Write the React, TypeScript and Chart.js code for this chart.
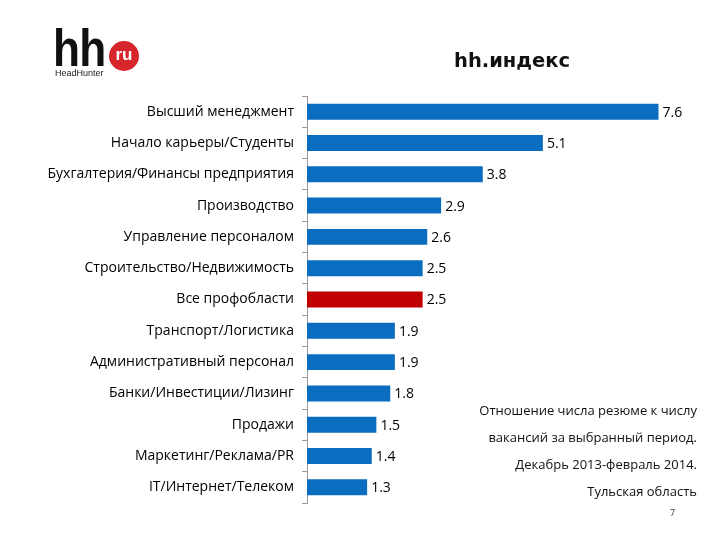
import React, { useEffect, useRef } from "react";
import { Chart, registerables } from "chart.js";

Chart.register(...registerables);

const categories = [
  "Высший менеджмент",
  "Начало карьеры/Студенты",
  "Бухгалтерия/Финансы предприятия",
  "Производство",
  "Управление персоналом",
  "Строительство/Недвижимость",
  "Все профобласти",
  "Транспорт/Логистика",
  "Административный персонал",
  "Банки/Инвестиции/Лизинг",
  "Продажи",
  "Маркетинг/Реклама/PR",
  "IT/Интернет/Телеком",
];
const values = [7.6, 5.1, 3.8, 2.9, 2.6, 2.5, 2.5, 1.9, 1.9, 1.8, 1.5, 1.4, 1.3];
const highlightCategory = "Все профобласти";
const titleText = "hh.индекс";
const noteLines = [
  "Отношение числа резюме к числу",
  "вакансий за выбранный период.",
  "Декабрь 2013-февраль 2014.",
  "Тульская область",
];
const pageNumber = "7";

const BLUE = "#0A6DC0";
const RED = "#C00000";
const LABEL_FONT = "'Open Sans', 'DejaVu Sans', sans-serif";

const valueLabels = {
  id: "valueLabels",
  afterDatasetsDraw(chart: any) {
    const ctx = chart.ctx;
    const meta = chart.getDatasetMeta(0);
    ctx.save();
    ctx.fillStyle = "#000";
    ctx.font = `14px ${LABEL_FONT}`;
    ctx.textAlign = "left";
    ctx.textBaseline = "middle";
    meta.data.forEach((el: any, i: number) => {
      ctx.fillText(String(values[i]), el.x + 4, el.y + 1);
    });
    ctx.restore();
  },
};

export default function App() {
  const ref = useRef<HTMLCanvasElement>(null);
  useEffect(() => {
    if (!ref.current) return;
    const chart = new Chart(ref.current, {
      type: "bar",
      data: {
        labels: categories,
        datasets: [
          {
            data: values,
            backgroundColor: categories.map((c) => (c === highlightCategory ? RED : BLUE)),
            barPercentage: 0.51,
            categoryPercentage: 1,
          },
        ],
      },
      options: {
        indexAxis: "y",
        animation: false,
        responsive: false,
        maintainAspectRatio: false,
        layout: { padding: { left: 0, top: 96, right: 43, bottom: 37 } },
        plugins: { legend: { display: false }, tooltip: { enabled: false }, title: { display: false } },
        scales: {
          x: { min: 0, max: 8, display: false },
          y: {
            afterFit(scale: any) {
              scale.width = 307;
            },
            grid: { display: true, drawOnChartArea: false, drawTicks: true, tickLength: 5, color: "#999" },
            border: { display: true, color: "#999" },
            ticks: { color: "#000", font: { family: LABEL_FONT, size: 14 }, padding: 8 },
          },
        },
      },
      plugins: [valueLabels],
    });
    return () => chart.destroy();
  }, []);

  return (
    <div style={{ position: "absolute", left: 0, top: 0, width: 720, height: 540, background: "#fff", overflow: "hidden" }}>
      <canvas ref={ref} width={720} height={540} style={{ position: "absolute", left: 0, top: 0 }} />
      {/* logo */}
      <div
        style={{
          position: "absolute",
          left: 53,
          top: 22,
          fontFamily: "'Liberation Sans', Arial, sans-serif",
          fontWeight: 700,
          fontSize: 52,
          lineHeight: "52px",
          color: "#111",
          transform: "scaleX(0.85)",
          transformOrigin: "left top",
          letterSpacing: -1,
        }}
      >
        hh
      </div>
      <div
        style={{
          position: "absolute",
          left: 109,
          top: 41,
          width: 30,
          height: 30,
          borderRadius: "50%",
          background: "#D6262B",
          color: "#fff",
          fontFamily: "'Liberation Sans', Arial, sans-serif",
          fontWeight: 700,
          fontSize: 17,
          lineHeight: "28px",
          textAlign: "center",
        }}
      >
        ru
      </div>
      <div
        style={{
          position: "absolute",
          left: 55,
          top: 68,
          fontFamily: "'Liberation Sans', Arial, sans-serif",
          fontSize: 9,
          color: "#222",
        }}
      >
        HeadHunter
      </div>
      {/* title */}
      <div
        style={{
          position: "absolute",
          left: 454,
          top: 48,
          fontFamily: "'DejaVu Sans', sans-serif",
          fontWeight: 700,
          fontSize: 19.5,
          color: "#111",
          lineHeight: "26px",
          whiteSpace: "nowrap",
        }}
      >
        {titleText}
      </div>
      {/* notes */}
      {noteLines.map((t, i) => (
        <div
          key={i}
          style={{
            position: "absolute",
            right: 23,
            top: 400 + i * 27,
            fontFamily: LABEL_FONT,
            fontSize: 13,
            lineHeight: "20px",
            color: "#111",
            whiteSpace: "nowrap",
            textAlign: "right",
          }}
        >
          {t}
        </div>
      ))}
      <div
        style={{
          position: "absolute",
          left: 670,
          top: 506,
          fontFamily: LABEL_FONT,
          fontSize: 9,
          color: "#333",
        }}
      >
        {pageNumber}
      </div>
    </div>
  );
}
